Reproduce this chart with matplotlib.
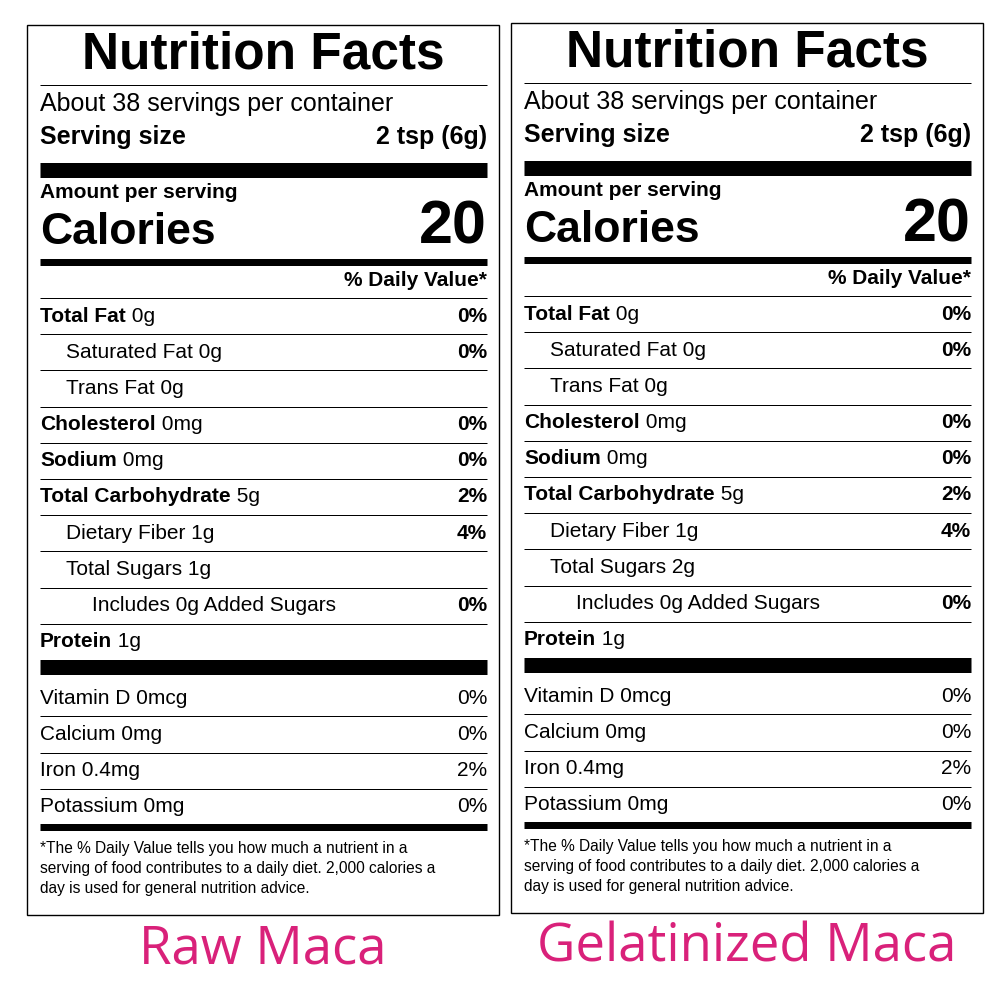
import matplotlib
matplotlib.use("Agg")
import matplotlib.pyplot as plt

products = ["Raw Maca", "Gelatinized Maca"]
servings_text = "About 38 servings per container"
serving_size = "2 tsp (6g)"
calories = [20, 20]
nutr_names = ["Total Fat", "Saturated Fat", "Trans Fat", "Cholesterol", "Sodium",
              "Total Carbohydrate", "Dietary Fiber", "Total Sugars", "Includes 0g Added Sugars", "Protein"]
nutr_amount_raw = ["0g", "0g", "0g", "0mg", "0mg", "5g", "1g", "1g", "", "1g"]
nutr_amount_gel = ["0g", "0g", "0g", "0mg", "0mg", "5g", "1g", "2g", "", "1g"]
nutr_dv = ["0%", "0%", "", "0%", "0%", "2%", "4%", "", "0%", ""]
nutr_indent = [0, 1, 1, 0, 0, 0, 1, 1, 2, 0]
nutr_bold = [1, 0, 0, 1, 1, 1, 0, 0, 0, 1]
vit_names = ["Vitamin D 0mcg", "Calcium 0mg", "Iron 0.4mg", "Potassium 0mg"]
vit_dv = ["0%", "0%", "2%", "0%"]
footnote = ["*The % Daily Value tells you how much a nutrient in a",
            "serving of food contributes to a daily diet. 2,000 calories a",
            "day is used for general nutrition advice."]
amounts = [nutr_amount_raw, nutr_amount_gel]

F = "Liberation Sans"
fig = plt.figure(figsize=(10, 10), dpi=100)
ax = fig.add_axes([0, 0, 1, 1])
ax.set_xlim(0, 1000); ax.set_ylim(1000, 0); ax.axis("off")

def hline(x0, x1, y, lw):
    ax.plot([x0, x1], [y, y], color="black", lw=lw * 0.72, solid_capstyle="butt")

def panel(k, bx, dy):
    L, R = bx + 13, bx + 460
    ax.add_patch(plt.Rectangle((bx, 25 + dy), 472, 890, fill=False, lw=1, ec="black"))
    ax.text((L + R) / 2, 55 + dy, "Nutrition Facts", fontsize=37, weight="bold", family=F,
            ha="center", va="center")
    hline(L, R, 85 + dy, 1)
    ax.text(L, 104 + dy, servings_text, fontsize=18, family=F, va="center")
    ax.text(L, 137 + dy, "Serving size", fontsize=18, weight="bold", family=F, va="center")
    ax.text(R, 137 + dy, serving_size, fontsize=18, weight="bold", family=F, va="center", ha="right")
    hline(L, R, 169.5 + dy, 15)
    ax.text(L, 192 + dy, "Amount per serving", fontsize=15, weight="bold", family=F, va="center")
    ax.text(L, 233 + dy, "Calories", fontsize=32, weight="bold", family=F, va="center")
    ax.text(R, 228 + dy, str(calories[k]), fontsize=44, weight="bold", family=F, va="center", ha="right")
    hline(L, R, 262 + dy, 7)
    ax.text(R, 281 + dy, "% Daily Value*", fontsize=15, weight="bold", family=F, va="center", ha="right")
    y = 298 + dy
    for i, name in enumerate(nutr_names):
        hline(L, R, y, 1)
        cy = y + 18
        x = L + 26 * nutr_indent[i]
        if nutr_bold[i]:
            t = ax.text(x, cy, name, fontsize=15, weight="bold", family=F, va="center")
            ax.annotate(" " + amounts[k][i], xycoords=t, xy=(1, 0.5), va="center",
                        fontsize=15, family=F)
        else:
            ax.text(x, cy, (name + " " + amounts[k][i]).strip(), fontsize=15, family=F, va="center")
        if nutr_dv[i]:
            ax.text(R, cy, nutr_dv[i], fontsize=15, weight="bold", family=F, va="center", ha="right")
        y += 36.2
    hline(L, R, 667 + dy, 15)
    y = 680 + dy
    for i, name in enumerate(vit_names):
        if i:
            hline(L, R, y, 1)
        ax.text(L, y + 18, name, fontsize=15, family=F, va="center")
        ax.text(R, y + 18, vit_dv[i], fontsize=15, family=F, va="center", ha="right")
        y += 36.3
    hline(L, R, 827 + dy, 7)
    for j, line in enumerate(footnote):
        ax.text(L, 849 + 20 * j + dy, line, fontsize=11.2, family=F, va="center")
    ax.text(bx + 236, 950 + dy, products[k], fontsize=38, family="Open Sans",
            color="#d9217a", ha="center", va="center")

panel(0, 27, 0)
panel(1, 511, -2)
fig.savefig("out.png", dpi=100)
